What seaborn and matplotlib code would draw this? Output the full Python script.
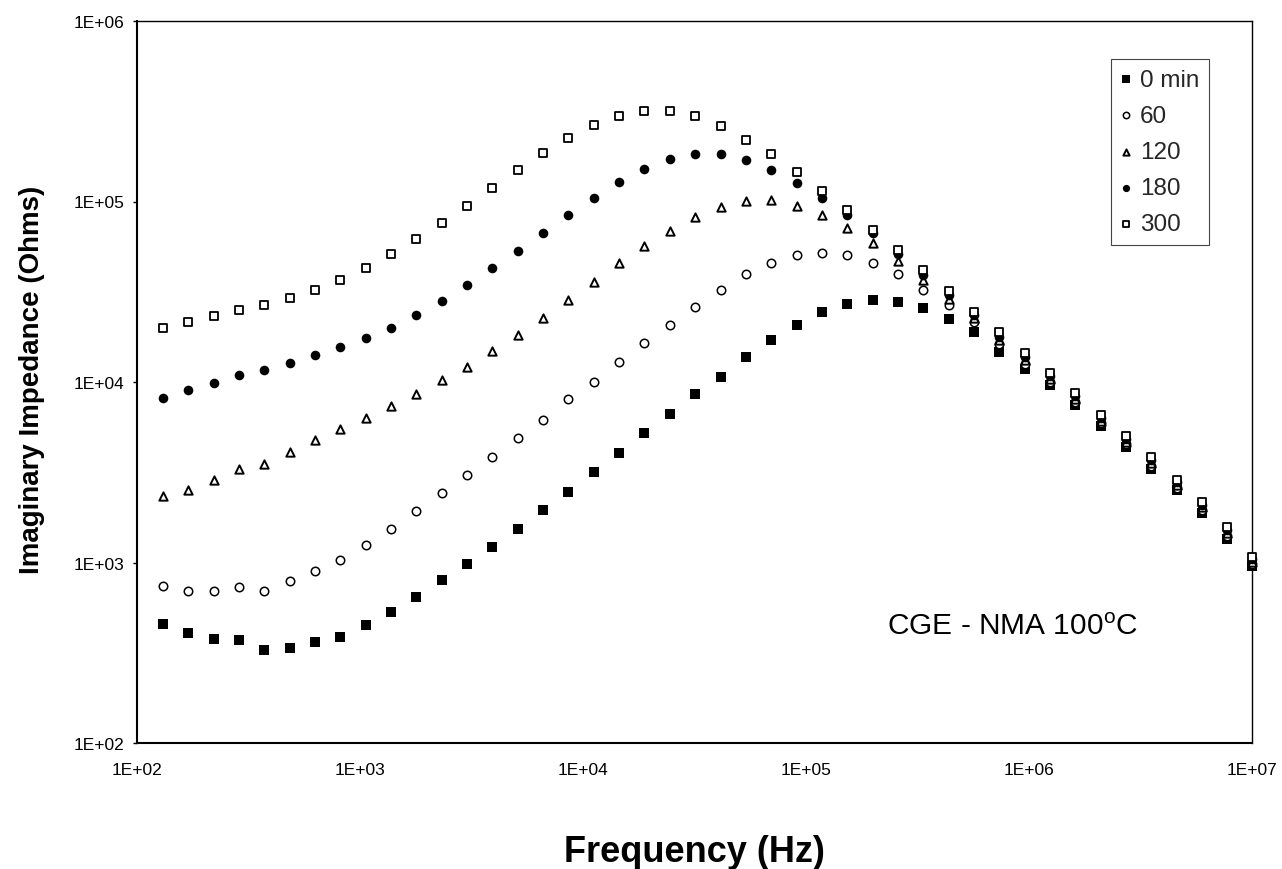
import matplotlib
matplotlib.use("Agg")
import matplotlib.pyplot as plt
import matplotlib.ticker as mticker
import numpy as np
import seaborn as sns

# ---------------- data ----------------
freq_hz = [131, 170, 221, 287, 373, 484, 629, 817, 1061, 1378,
           1791, 2326, 3022, 3926, 5100, 6625, 8607, 11180, 14524, 18867,
           24510, 31840, 41362, 53730, 69800, 90675, 117790, 153020, 198780, 258230,
           335450, 435770, 566090, 735380, 955300, 1241000, 1612000, 2094000, 2721000, 3534000,
           4591000, 5964000, 7748000, 10000000]

z_0min = [457, 406, 379, 374, 328, 338, 365, 389, 448, 531,
          643, 798, 980, 1222, 1538, 1944, 2466, 3158, 4055, 5215,
          6680, 8580, 10700, 13770, 17180, 20800, 24480, 27220, 28390, 27800,
          25540, 22280, 18960, 14690, 11760, 9590, 7430, 5680, 4365, 3311,
          2507, 1879, 1353, 951]

z_60 = [740, 697, 694, 731, 694, 785, 899, 1026, 1254, 1538,
        1928, 2414, 3040, 3856, 4898, 6185, 8100, 10050, 12920, 16480,
        20800, 26080, 32540, 39440, 45370, 50450, 51980, 50450, 45370, 39440,
        32540, 26630, 21540, 16330, 12650, 10000, 7750, 5900, 4520, 3440,
        2600, 1950, 1400, 980]

z_120 = [2335, 2509, 2850, 3280, 3527, 4094, 4795, 5467, 6322, 7330,
         8620, 10220, 12130, 14800, 18160, 22670, 28390, 35900, 45370, 56890,
         68850, 82350, 92680, 101000, 101800, 94800, 84100, 71600, 58600, 46700,
         36640, 29000, 22670, 17040, 13180, 10450, 8050, 6100, 4680, 3570,
         2690, 2020, 1460, 1010]

z_180 = [8160, 8990, 9840, 10990, 11720, 12810, 14190, 15660, 17570, 20040,
         23440, 28170, 34390, 42940, 53330, 67120, 84080, 104900, 128800, 151400,
         171100, 183200, 183200, 169800, 149300, 127100, 104000, 84100, 66500, 51500,
         39400, 30270, 23440, 17790, 13770, 10810, 8350, 6300, 4850, 3700,
         2780, 2090, 1510, 1045]

z_300 = [19950, 21540, 23130, 24990, 26630, 29020, 32540, 36640, 42940, 50920,
         61830, 76270, 94780, 119300, 149300, 184900, 223900, 265400, 299100, 317200,
         317200, 297800, 263300, 220300, 182400, 146200, 114300, 89600, 69400, 53700,
         41700, 31840, 24480, 18960, 14560, 11270, 8650, 6530, 5020, 3846,
         2877, 2164, 1571, 1079]

series_labels = ["0 min", "60", "120", "180", "300"]
x_ticks = [1e2, 1e3, 1e4, 1e5, 1e6, 1e7]
y_ticks = [1e2, 1e3, 1e4, 1e5, 1e6]
x_title = "Frequency (Hz)"
y_title = "Imaginary Impedance (Ohms)"
note_text = "CGE - NMA 100$^{\\mathregular{o}}$C"

# ---------------- style ----------------
sns.set_style("white")
plt.rcParams["font.family"] = ["Liberation Sans", "DejaVu Sans"]
plt.rcParams["mathtext.default"] = "regular"

fig = plt.figure(figsize=(12.82, 8.70), dpi=100)
ax = fig.add_axes([137 / 1282, 1 - 744 / 870, (1252 - 137) / 1282, (744 - 22) / 870])

styles = [
    dict(marker="s", s=52, color="black", edgecolor="black", linewidth=0),
    dict(marker="o", s=37, color="white", edgecolor="black", linewidth=1.1),
    dict(marker="^", s=36, color="white", edgecolor="black", linewidth=1.4),
    dict(marker="o", s=48, color="black", edgecolor="black", linewidth=0),
    dict(marker="s", s=38, color="white", edgecolor="black", linewidth=1.3),
]
all_series = [z_0min, z_60, z_120, z_180, z_300]

for vals, lab, st in zip(all_series, series_labels, styles):
    sns.scatterplot(x=freq_hz, y=vals, ax=ax, label=lab, clip_on=False, zorder=3, **st)

ax.set_xscale("log")
ax.set_yscale("log")
ax.set_xlim(1e2, 1e7)
ax.set_ylim(1e2, 1e6)

fmt = mticker.FuncFormatter(lambda v, p: "1E+%02d" % int(round(np.log10(v))))
ax.xaxis.set_major_locator(mticker.FixedLocator(x_ticks))
ax.yaxis.set_major_locator(mticker.FixedLocator(y_ticks))
ax.xaxis.set_minor_locator(mticker.NullLocator())
ax.yaxis.set_minor_locator(mticker.NullLocator())
ax.xaxis.set_major_formatter(fmt)
ax.yaxis.set_major_formatter(fmt)

ax.tick_params(axis="y", direction="out", length=3, width=1, pad=6,
               labelsize=12.5, colors="black", left=True)
ax.tick_params(axis="x", length=0, pad=13.5, labelsize=12.5, colors="black")

for side, sp in ax.spines.items():
    sp.set_color("black")
    sp.set_visible(True)
    sp.set_linewidth(1.5 if side in ("left", "bottom") else 1.0)

# axis titles
ax.set_xlabel(x_title, fontsize=26, fontweight="bold", color="black")
ax.xaxis.label.set_va("baseline")
ax.xaxis.set_label_coords(0.5, (744 - 862) / 722)

ax.set_ylabel(y_title, fontsize=20, fontweight="bold", color="black")
ax.yaxis.label.set_va("baseline")
ax.yaxis.set_label_coords((39 - 137) / 1115, (744 - 380) / 722)

# annotation
ax.text((887 - 137) / 1115, (744 - 635) / 722, note_text, transform=ax.transAxes,
        fontsize=21.5, ha="left", va="baseline", color="black")

# legend
leg = ax.legend(loc="upper left", bbox_to_anchor=((1111 - 137) / 1115, (744 - 60) / 722),
                borderaxespad=0, fontsize=17.5, markerscale=0.75, handlelength=0.4,
                handletextpad=0.4, labelspacing=0.58, borderpad=0.4,
                frameon=True, fancybox=False, framealpha=1, edgecolor="#444444")
leg.get_frame().set_linewidth(0.8)

fig.savefig("out.png", dpi=100, facecolor="white")
